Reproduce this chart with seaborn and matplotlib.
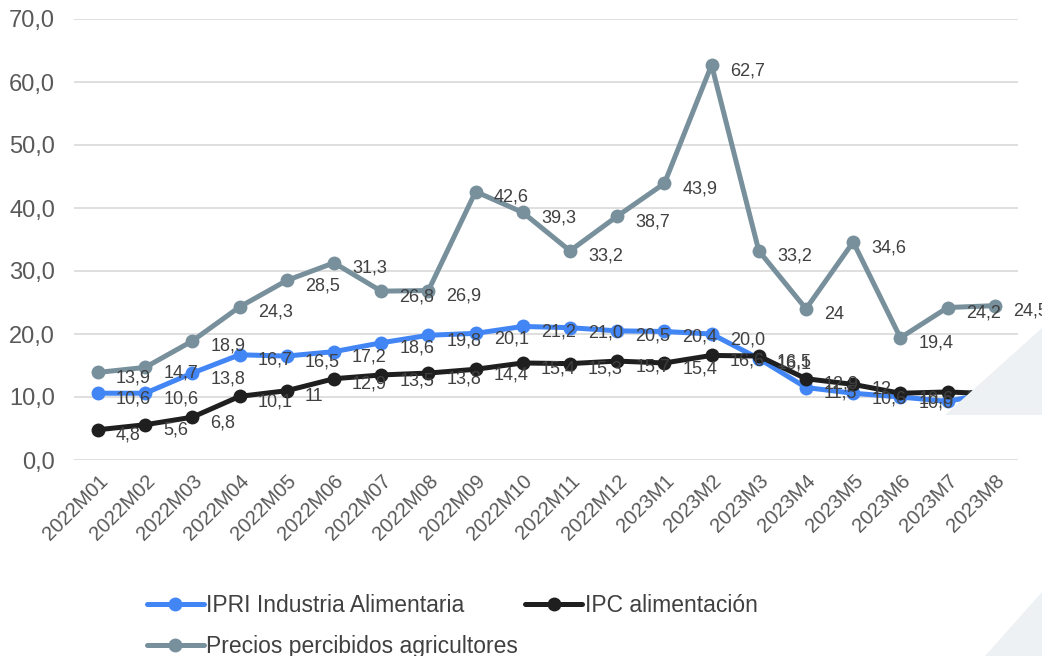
import matplotlib
matplotlib.use("Agg")
import matplotlib.pyplot as plt
import seaborn as sb
import numpy as np
import pandas as pd
from matplotlib.patches import Polygon

# Data
months = ["2022M01", "2022M02", "2022M03", "2022M04", "2022M05", "2022M06",
          "2022M07", "2022M08", "2022M09", "2022M10", "2022M11", "2022M12",
          "2023M1", "2023M2", "2023M3", "2023M4", "2023M5", "2023M6",
          "2023M7", "2023M8"]
ipri = [10.6, 10.6, 13.8, 16.7, 16.5, 17.2, 18.6, 19.8, 20.1, 21.2, 21.0, 20.5,
        20.4, 20.0, 16.1, 11.5, 10.6, 10.0, 9.3, 10.8]
ipc = [4.8, 5.6, 6.8, 10.1, 11, 12.9, 13.5, 13.8, 14.4, 15.4, 15.3, 15.7,
       15.4, 16.6, 16.5, 12.9, 12, 10.6, 10.8, 10.5]
precios = [13.9, 14.7, 18.9, 24.3, 28.5, 31.3, 26.8, 26.9, 42.6, 39.3, 33.2, 38.7,
           43.9, 62.7, 33.2, 24, 34.6, 19.4, 24.2, 24.5]
# labels exactly as shown (some without decimals)
ipc_labels = ["4,8", "5,6", "6,8", "10,1", "11", "12,9", "13,5", "13,8", "14,4", "15,4",
              "15,3", "15,7", "15,4", "16,6", "16,5", "12,9", "12", "10,6", "10,8", "10,5"]
precios_labels = ["13,9", "14,7", "18,9", "24,3", "28,5", "31,3", "26,8", "26,9", "42,6",
                  "39,3", "33,2", "38,7", "43,9", "62,7", "33,2", "24", "34,6", "19,4",
                  "24,2", "24,5"]

series_names = ["IPRI Industria Alimentaria", "IPC alimentación",
                "Precios percibidos agricultores"]
colors = ["#4285F4", "#1F1F1F", "#78909C"]

sb.set_theme(style="white")
matplotlib.rcParams['font.family'] = ['Liberation Sans', 'DejaVu Sans']

fig = plt.figure(figsize=(10.42, 6.56), dpi=100)

# background slide decorations
fig.patches.append(Polygon([[1.0, 1 - 328 / 656], [945 / 1042, 1 - 415 / 656], [1.0, 1 - 415 / 656]],
                           closed=True, transform=fig.transFigure, facecolor="#EDF1F4",
                           edgecolor="none", zorder=0))
fig.patches.append(Polygon([[1.0, 1 - 592 / 656], [985 / 1042, 0.0], [1.0, 0.0]],
                           closed=True, transform=fig.transFigure, facecolor="#EDF1F4",
                           edgecolor="none", zorder=0))

ax = fig.add_axes([74.4 / 1042, 1 - 460 / 656, (1018.4 - 74.4) / 1042, 441 / 656])
ax.patch.set_alpha(0)

x = np.arange(len(months))
df = pd.DataFrame({"x": np.tile(x, 3),
                   "value": ipri + ipc + precios,
                   "serie": np.repeat(series_names, len(months))})

for name, color in zip(series_names, colors):
    sub = df[df["serie"] == name]
    sb.lineplot(data=sub, x="x", y="value", ax=ax, color=color, linewidth=3.6,
                marker="o", markersize=10, markeredgewidth=0, label=name, legend=False)

# data labels
label_sets = [[f"{v:.1f}".replace(".", ",") for v in ipri], ipc_labels, precios_labels]
for vals, labs in zip([ipri, ipc, precios], label_sets):
    for xi, (v, lab) in enumerate(zip(vals, labs)):
        ax.annotate(lab, (xi, v), xytext=(13, -4), textcoords="offset points",
                    ha="left", va="center", fontsize=13, color="#404040", zorder=5)

ax.set_xlim(-0.5, 19.5)
ax.set_ylim(0, 70)
ax.set_yticks(np.arange(0, 71, 10))
ax.set_yticklabels([f"{v:.1f}".replace(".", ",") for v in np.arange(0, 71, 10)])
ax.set_xticks(x)
ax.set_xticklabels(months, rotation=45, ha="right", rotation_mode="anchor")
ax.tick_params(axis="both", labelcolor="#595959", length=0)
ax.tick_params(axis="x", pad=8, labelsize=14.5)
ax.tick_params(axis="y", pad=14, labelsize=17)
ax.yaxis.grid(True, color="#D9D9D9", linewidth=1.2)
ax.set_axisbelow(True)
for s in ax.spines.values():
    s.set_visible(False)
ax.set_xlabel("")
ax.set_ylabel("")

handles, labels = ax.get_legend_handles_labels()
# row-major order: IPRI, IPC on first row, Precios on second row
order = [0, 2, 1]
fig.legend([handles[i] for i in order], [labels[i] for i in order], loc="upper left",
           bbox_to_anchor=(126 / 1042, 1 - 573 / 656),
           ncol=2, frameon=False, fontsize=16.5, handlelength=2.5, handletextpad=0.1,
           columnspacing=0.3, labelspacing=0.8, labelcolor="#404040")

plt.savefig("out.png", dpi=100)
